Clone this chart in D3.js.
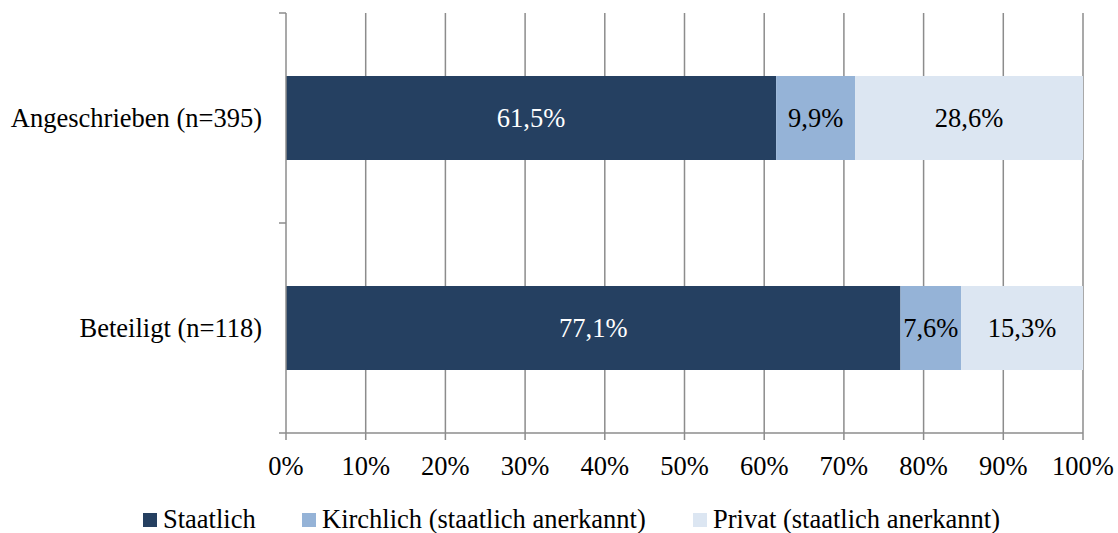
<!DOCTYPE html>
<html>
<head>
<meta charset="utf-8">
<script src="https://cdn.jsdelivr.net/npm/d3@7"></script>
<style>
  body { margin: 0; background: #fff; }
  svg { display: block; font-family: "Liberation Serif", "Times New Roman", serif; }
</style>
</head>
<body>
<svg></svg>
<script>
const width = 1118;
const height = 533;
const svg = d3.select("svg").attr("width", width).attr("height", height);

const categories = ["Angeschrieben (n=395)", "Beteiligt (n=118)"];
const seriesNames = ["Staatlich", "Kirchlich (staatlich anerkannt)", "Privat (staatlich anerkannt)"];
const staatlich = [61.5, 77.1];
const kirchlich = [9.9, 7.6];
const privat = [28.6, 15.3];
const xTicks = [0, 10, 20, 30, 40, 50, 60, 70, 80, 90, 100];
const colors = ["#254061", "#95B3D7", "#DCE6F2"];
const labelColors = ["#fff", "#000", "#000"];

const plotLeft = 286, plotRight = 1083, plotTop = 13, plotBottom = 433;
const fs = 26.5;

const x = d3.scaleLinear().domain([0, 100]).range([plotLeft, plotRight]);
const y = d3.scaleBand().domain(categories).range([plotTop, plotBottom]).paddingInner(0.6).paddingOuter(0.3);

const rows = categories.map((c, i) => ({ cat: c, Staatlich: staatlich[i], Kirchlich: kirchlich[i], Privat: privat[i] }));
const stack = d3.stack().keys(["Staatlich", "Kirchlich", "Privat"]);
const series = stack(rows);

const grid = "#8c8c8c";

// vertical gridlines
svg.append("g").selectAll("line").data(xTicks.slice(1)).join("line")
  .attr("x1", d => x(d)).attr("x2", d => x(d))
  .attr("y1", plotTop).attr("y2", plotBottom + 7)
  .attr("stroke", grid).attr("stroke-width", 1.5);

// bars
const g = svg.append("g");
series.forEach((s, si) => {
  g.selectAll(null).data(s).join("rect")
    .attr("x", d => x(d[0]))
    .attr("width", d => x(d[1]) - x(d[0]))
    .attr("y", d => y(d.data.cat))
    .attr("height", y.bandwidth())
    .attr("fill", colors[si]);
  g.selectAll(null).data(s).join("text")
    .attr("x", d => (x(d[0]) + x(d[1])) / 2)
    .attr("y", d => y(d.data.cat) + y.bandwidth() / 2)
    .attr("dy", "0.33em")
    .attr("text-anchor", "middle")
    .attr("font-size", fs)
    .attr("fill", labelColors[si])
    .text(d => d3.format(".1f")(d[1] - d[0]).replace(".", ",") + "%");
});

// y axis line and ticks
svg.append("line").attr("x1", plotLeft).attr("x2", plotLeft).attr("y1", plotTop).attr("y2", plotBottom + 7)
  .attr("stroke", grid).attr("stroke-width", 1.5);
const yTickPos = [plotTop, (plotTop + plotBottom) / 2, plotBottom];
svg.append("g").selectAll("line").data(yTickPos).join("line")
  .attr("x1", plotLeft - 7).attr("x2", plotLeft).attr("y1", d => d).attr("y2", d => d)
  .attr("stroke", grid).attr("stroke-width", 1.5);

// x axis line
svg.append("line").attr("x1", plotLeft).attr("x2", plotRight).attr("y1", plotBottom).attr("y2", plotBottom)
  .attr("stroke", grid).attr("stroke-width", 1.5);

// x tick labels
svg.append("g").selectAll("text").data(xTicks).join("text")
  .attr("x", d => x(d)).attr("y", 475)
  .attr("text-anchor", "middle").attr("font-size", fs).attr("fill", "#000")
  .text(d => d + "%");

// category labels
svg.append("g").selectAll("text").data(categories).join("text")
  .attr("x", 262).attr("y", d => y(d) + y.bandwidth() / 2).attr("dy", "0.33em")
  .attr("text-anchor", "end").attr("font-size", fs).attr("fill", "#000")
  .text(d => d);

// legend
const legendX = [143, 302, 693];
const legend = svg.append("g").selectAll("g").data(seriesNames).join("g")
  .attr("transform", (d, i) => `translate(${legendX[i]},513)`);
legend.append("rect").attr("width", 14).attr("height", 14).attr("fill", (d, i) => colors[i]);
legend.append("text").attr("x", 20).attr("y", 15)
  .attr("font-size", fs).attr("fill", "#000").text(d => d);
</script>
</body>
</html>
